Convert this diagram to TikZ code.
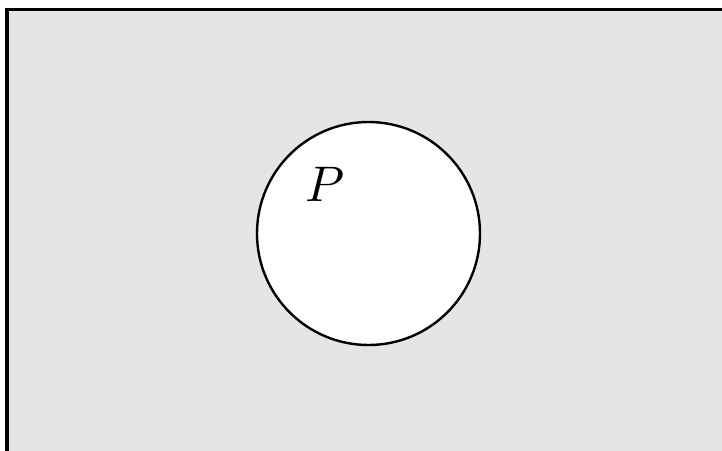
\documentclass[tikz,border=0pt]{standalone}
\begin{document}
\begin{tikzpicture}[x=1pt,y=-1pt,
      universe/.style={draw,line width=3.2pt,fill=black!10},
      region/.style={draw,line width=2.4pt,circle,fill=white,minimum size=223pt,inner sep=0pt}]
    \useasboundingbox (0,0) rectangle (722,450);
    \clip (0,0) rectangle (722,450);
    \draw[universe] (7,9.5) rectangle (760,490);
    \node[region] (p) at (368.5,233.5) {};
    \node[scale=5] (lab) at (325,184) {\(P\)};
  \end{tikzpicture}
\end{document}
